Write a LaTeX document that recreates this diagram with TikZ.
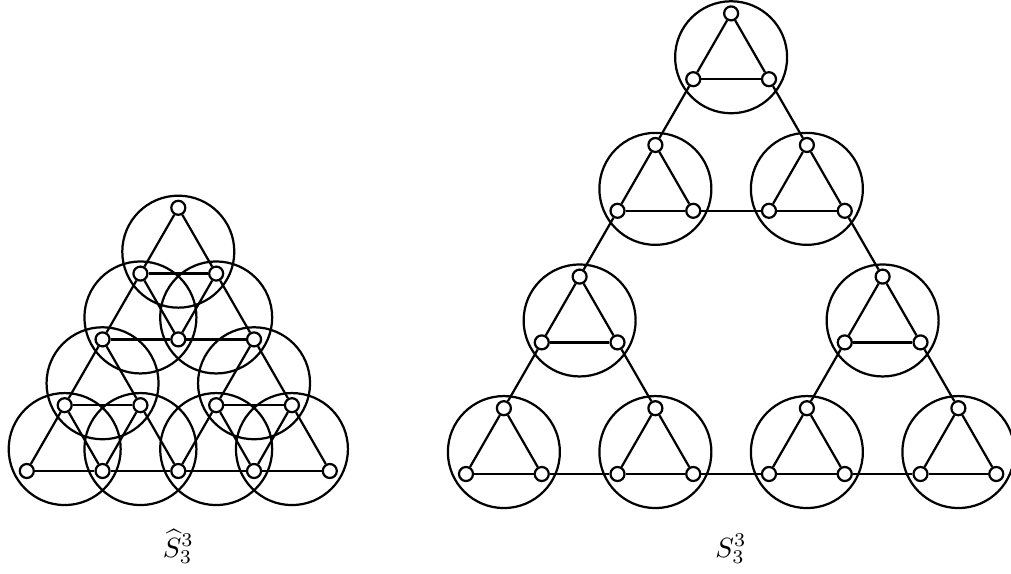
\documentclass[tikz,border=0pt]{standalone}
\begin{document}
\def\u{0.36pt}
\tikzset{
  vtx/.style={circle,draw,fill=white,line width=0.8pt,minimum size=14*\u,inner sep=0pt},
  bigc/.style={circle,draw,line width=0.8pt,minimum size=112*\u,inner sep=0pt},
  edge/.style={line width=0.8pt},
  lattice/.style={x={(75.75*\u,0pt)},y={(37.875*\u,65.8*\u)}}
}
\begin{tikzpicture}
\useasboundingbox (0pt,0pt) rectangle (1011*\u,573*\u);
% ---------- left figure ----------
\begin{scope}[shift={(26.8*\u,102*\u)},lattice]
  \foreach \a/\b in {0/0,1/0,0/1,2/0,3/0,2/1,0/2,1/2,0/3}
    \node[bigc] (LC-\a-\b) at (\a+1/3,\b+1/3) {};
  \foreach \b in {0,...,4}{
    \pgfmathtruncatemacro\m{4-\b}
    \foreach \a in {0,...,\m}
      \node[vtx] (L-\a-\b) at (\a,\b) {};
  }
  \foreach \a/\b in {0/0,1/0,0/1,2/0,3/0,2/1,0/2,1/2,0/3}{
    \pgfmathtruncatemacro\ap{\a+1}
    \pgfmathtruncatemacro\bp{\b+1}
    \draw[edge] (L-\a-\b) -- (L-\ap-\b);
    \draw[edge] (L-\ap-\b) -- (L-\a-\bp);
    \draw[edge] (L-\a-\bp) -- (L-\a-\b);
  }
\end{scope}
% ---------- right figure ----------
\begin{scope}[shift={(466*\u,99*\u)},lattice]
  \foreach \a/\b in {0/0,2/0,0/2,4/0,6/0,4/2,0/4,2/4,0/6}{
    \pgfmathtruncatemacro\ap{\a+1}
    \pgfmathtruncatemacro\bp{\b+1}
    \node[bigc] (RC-\a-\b) at (\a+1/3,\b+1/3) {};
    \node[vtx] (R-\a-\b) at (\a,\b) {};
    \node[vtx] (R-\ap-\b) at (\ap,\b) {};
    \node[vtx] (R-\a-\bp) at (\a,\bp) {};
    \draw[edge] (R-\a-\b) -- (R-\ap-\b);
    \draw[edge] (R-\ap-\b) -- (R-\a-\bp);
    \draw[edge] (R-\a-\bp) -- (R-\a-\b);
  }
  \foreach \p/\q/\r/\s in {1/0/2/0,0/1/0/2,2/1/1/2,5/0/6/0,4/1/4/2,6/1/5/2,1/4/2/4,0/5/0/6,2/5/1/6,3/0/4/0,0/3/0/4,4/3/3/4}
    \draw[edge] (R-\p-\q) -- (R-\r-\s);
\end{scope}
% ---------- labels ----------
\node[anchor=base,inner sep=0pt] (labL) at (178.3*\u,16*\u) {$\widehat{S}_3^3$};
\node[anchor=base,inner sep=0pt] (labR) at (731*\u,16*\u) {$S_3^3$};
\end{tikzpicture}
\end{document}
